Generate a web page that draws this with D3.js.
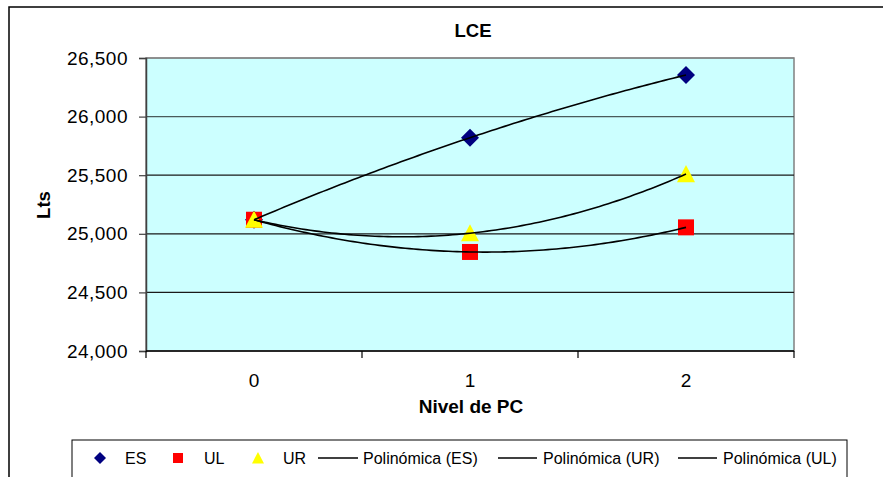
<!DOCTYPE html>
<html>
<head>
<meta charset="utf-8">
<script src="https://cdn.jsdelivr.net/npm/d3@7"></script>
<style>
  html, body { margin: 0; padding: 0; background: #fff; }
  svg { display: block; font-family: "Liberation Sans", Arial, sans-serif; }
</style>
</head>
<body>
<svg id="chart" width="883" height="477"></svg>
<script>
// Litres by PC level for each group
const categories = [0, 1, 2];
const esValues = [25120, 25820, 26355];
const ulValues = [25120, 24845, 25055];
const urValues = [25120, 25005, 25510];
const yTicks = [24000, 24500, 25000, 25500, 26000, 26500];

const svg = d3.select("#chart");
const plot = { left: 146, top: 58, right: 794, bottom: 351 };

// outer chart frame (runs off the right and bottom edges)
svg.append("rect")
  .attr("x", 9).attr("y", 7).attr("width", 900).attr("height", 500)
  .attr("fill", "#fff").attr("stroke", "#000").attr("stroke-width", 1.5);

const x = d3.scaleBand().domain(categories).range([plot.left, plot.right]).padding(0);
const y = d3.scaleLinear().domain([24000, 26500]).range([plot.bottom, plot.top]);
// continuous x for trend curves, aligned with band centres
const xc = d3.scaleLinear()
  .domain([categories[0], categories[categories.length - 1]])
  .range([x(categories[0]) + x.bandwidth() / 2, x(categories[categories.length - 1]) + x.bandwidth() / 2]);

// plot background
svg.append("rect")
  .attr("x", plot.left).attr("y", plot.top)
  .attr("width", plot.right - plot.left).attr("height", plot.bottom - plot.top)
  .attr("fill", "#ccffff").attr("stroke", "#808080").attr("stroke-width", 1.5);

// horizontal gridlines
svg.append("g").selectAll("line").data(yTicks.filter(d => d > 24000))
  .join("line")
  .attr("x1", plot.left).attr("x2", plot.right)
  .attr("y1", d => y(d)).attr("y2", d => y(d))
  .attr("stroke", d => d === 26500 ? "#808080" : (d === 26000 ? "#4a5a5a" : "#1a1a1a"))
  .attr("stroke-width", 1.2);

// y axis
const yAxis = svg.append("g").attr("transform", `translate(${plot.left},0)`)
  .call(d3.axisLeft(y).tickValues(yTicks).tickFormat(d3.format(",")).tickSize(7).tickPadding(11));
yAxis.select(".domain").attr("stroke", "#404040").attr("stroke-width", 1.5);
yAxis.selectAll(".tick line").attr("stroke", "#404040").attr("stroke-width", 1.2);
yAxis.selectAll("text").attr("font-size", 19).attr("letter-spacing", "0.5px").attr("fill", "#000")
  .attr("font-family", "Liberation Sans, Arial, sans-serif");

// x axis: category labels centred, ticks at band edges
const xAxisG = svg.append("g").attr("transform", `translate(0,${plot.bottom})`);
xAxisG.append("line").attr("x1", plot.left).attr("x2", plot.right)
  .attr("stroke", "#000").attr("stroke-width", 1.5);
const edges = categories.map(c => x(c)).concat([plot.right]);
xAxisG.selectAll("line.tk").data(edges).join("line").attr("class", "tk")
  .attr("x1", d => d).attr("x2", d => d).attr("y1", 0).attr("y2", 7)
  .attr("stroke", "#000").attr("stroke-width", 1.2);
xAxisG.selectAll("text").data(categories).join("text")
  .attr("x", d => x(d) + x.bandwidth() / 2).attr("y", 36)
  .attr("text-anchor", "middle").attr("font-size", 19).text(d => d);

// titles
svg.append("text").attr("x", 473).attr("y", 37).attr("text-anchor", "middle")
  .attr("font-size", 18.5).attr("font-weight", "bold").text("LCE");
svg.append("text").attr("x", 471).attr("y", 413).attr("text-anchor", "middle")
  .attr("font-size", 19).attr("font-weight", "bold").text("Nivel de PC");
svg.append("text").attr("transform", "translate(50,205) rotate(-90)").attr("text-anchor", "middle")
  .attr("font-size", 18.5).attr("font-weight", "bold").text("Lts");

// marker shapes
const diamond = s => `M0,${-s}L${s},0L0,${s}L${-s},0Z`;
const square = s => `M${-s},${-s}H${s}V${s}H${-s}Z`;
const triangle = s => `M0,${-s}L${s},${s * 0.9}L${-s},${s * 0.9}Z`;

const series = [
  { name: "ES", values: esValues, color: "#000080", shape: diamond, size: 9, lsize: 6 },
  { name: "UL", values: ulValues, color: "#ff0000", shape: square, size: 8, lsize: 5 },
  { name: "UR", values: urValues, color: "#ffff00", shape: triangle, size: 9, lsize: 6 }
];

series.forEach(s => {
  svg.append("g").selectAll("path").data(categories)
    .join("path")
    .attr("transform", (c, i) => `translate(${x(c) + x.bandwidth() / 2},${y(s.values[i])})`)
    .attr("d", s.shape(s.size)).attr("fill", s.color);
});

// second-order polynomial trend through each series
function quadFit(vals) {
  const [y0, y1, y2] = vals;
  const c = (y0 - 2 * y1 + y2) / 2;
  const b = y1 - y0 - c;
  return t => y0 + b * t + c * t * t;
}
const line = d3.line().x(d => xc(d[0])).y(d => y(d[1]));
const trendOrder = [series[0], series[2], series[1]];
trendOrder.forEach(s => {
  const f = quadFit(s.values);
  const pts = d3.range(0, 2.0001, 0.02).map(t => [t, f(t)]);
  svg.append("path").datum(pts).attr("d", line)
    .attr("fill", "none").attr("stroke", "#000").attr("stroke-width", 1.6);
});

// legend
const lg = svg.append("g");
lg.append("rect").attr("x", 72).attr("y", 440).attr("width", 775).attr("height", 60)
  .attr("fill", "#fff").attr("stroke", "#000").attr("stroke-width", 1);
const legendMarkers = [
  { s: series[0], mx: 100, tx: 125 },
  { s: series[1], mx: 178, tx: 204 },
  { s: series[2], mx: 258, tx: 283 }
];
legendMarkers.forEach(d => {
  lg.append("path").attr("transform", `translate(${d.mx},458)`)
    .attr("d", d.s.shape(d.s.lsize)).attr("fill", d.s.color);
  lg.append("text").attr("x", d.tx).attr("y", 464).attr("font-size", 16).text(d.s.name);
});
const legendTrends = [
  { label: "Polinómica (ES)", x1: 318, x2: 358, tx: 363 },
  { label: "Polinómica (UR)", x1: 498, x2: 537, tx: 543 },
  { label: "Polinómica (UL)", x1: 678, x2: 717, tx: 723 }
];
legendTrends.forEach(d => {
  lg.append("line").attr("x1", d.x1).attr("x2", d.x2).attr("y1", 458).attr("y2", 458)
    .attr("stroke", "#000").attr("stroke-width", 1.3);
  lg.append("text").attr("x", d.tx).attr("y", 464).attr("font-size", 16).text(d.label);
});
</script>
</body>
</html>
